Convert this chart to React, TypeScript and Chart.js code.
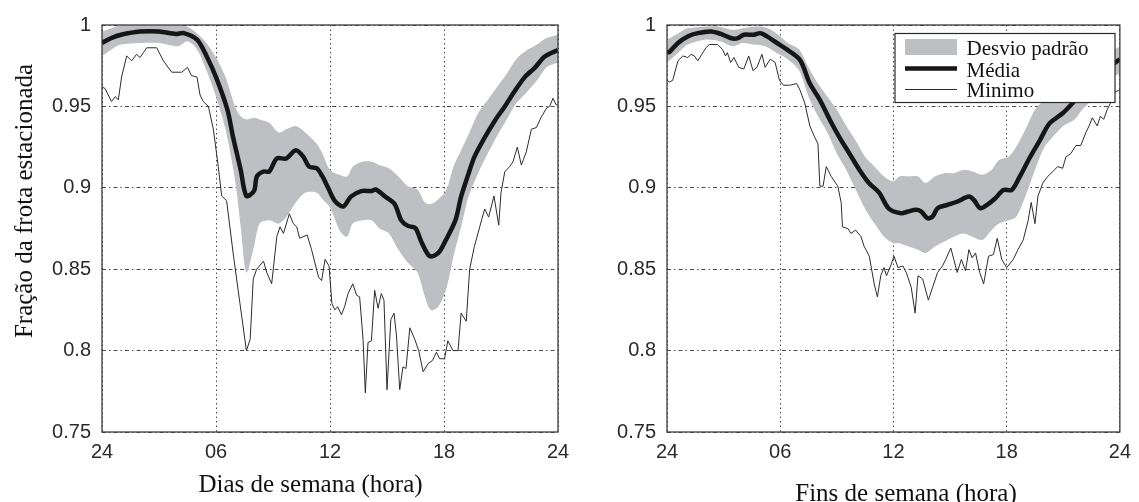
import { useEffect, useRef } from 'react';
import { Chart, registerables } from 'chart.js';

Chart.register(...registerables);

// Axis ticks: hours of the day, starting and ending at midnight ("24")
const xTickValues = [0, 6, 12, 18, 24];
const xTickLabels = ['24', '06', '12', '18', '24'];
const yTickValues = [0.75, 0.8, 0.85, 0.9, 0.95, 1];
const yTickLabels = ['0.75', '0.8', '0.85', '0.9', '0.95', '1'];

const yAxisTitle = 'Fração da frota estacionada';
const weekdayTitle = 'Dias de semana (hora)';
const weekendTitle = 'Fins de semana (hora)';
const legendLabels = ['Desvio padrão', 'Média', 'Minimo'];

// Weekdays: [hour, mean + std, mean - std]
const weekdayBand: [number, number, number][] = [
  [0, 0.996, 0.981], [0.5, 0.998, 0.985], [1, 1.0, 0.988], [2, 1.0, 0.989], [3, 1.0, 0.989],
  [4, 1.0, 0.987], [4.5, 0.999, 0.99], [5, 0.995, 0.985], [5.5, 0.989, 0.972], [6, 0.98, 0.956],
  [6.5, 0.968, 0.936], [7, 0.95, 0.905], [7.3, 0.944, 0.876], [7.6, 0.942, 0.848], [8, 0.943, 0.864],
  [8.3, 0.942, 0.878], [8.8, 0.94, 0.88], [9.3, 0.934, 0.878], [9.7, 0.936, 0.882], [10.2, 0.938, 0.891],
  [10.7, 0.934, 0.897], [11.3, 0.927, 0.897], [11.6, 0.921, 0.893], [12, 0.911, 0.888], [12.5, 0.908, 0.874],
  [12.9, 0.907, 0.87], [13.2, 0.913, 0.878], [13.7, 0.916, 0.88], [14.2, 0.916, 0.88], [14.6, 0.914, 0.875],
  [15.1, 0.912, 0.872], [15.6, 0.907, 0.862], [16.1, 0.901, 0.854], [16.6, 0.899, 0.848], [17, 0.891, 0.833],
  [17.3, 0.89, 0.825], [17.7, 0.893, 0.827], [18.1, 0.898, 0.837], [18.5, 0.913, 0.858], [18.9, 0.923, 0.876],
  [19.3, 0.933, 0.895], [19.8, 0.946, 0.909], [20.3, 0.954, 0.921], [20.8, 0.962, 0.932], [21.3, 0.97, 0.942],
  [21.8, 0.979, 0.952], [22.3, 0.984, 0.958], [22.9, 0.988, 0.966], [23.4, 0.992, 0.974], [24, 0.994, 0.977],
];

// Weekdays: [hour, mean fraction]
const weekdayMean: [number, number][] = [
  [0, 0.989], [0.5, 0.992], [1, 0.994], [2, 0.996], [3, 0.996], [3.9, 0.9945], [4.3, 0.995], [5, 0.991],
  [5.5, 0.981], [6, 0.968], [6.6, 0.948], [6.9, 0.931], [7.3, 0.911], [7.6, 0.895], [8.0, 0.898],
  [8.15, 0.907], [8.5, 0.91], [8.8, 0.91], [9.2, 0.918], [9.7, 0.918], [10.2, 0.923], [10.6, 0.919],
  [10.9, 0.913], [11.3, 0.912], [11.6, 0.907], [11.9, 0.9], [12.25, 0.892], [12.7, 0.8885], [13.1, 0.8946],
  [13.65, 0.898], [14.2, 0.898], [14.4, 0.899], [14.9, 0.8946], [15.4, 0.89], [15.75, 0.88], [16.1, 0.8766],
  [16.5, 0.8752], [16.8, 0.867], [17.25, 0.858], [17.7, 0.86], [18.1, 0.868], [18.6, 0.88], [18.9, 0.8946],
  [19.3, 0.909], [19.6, 0.919], [20.1, 0.93], [20.7, 0.9417], [21.2, 0.95], [21.7, 0.959], [22.25, 0.968],
  [22.8, 0.974], [23.3, 0.9806], [24, 0.9847],
];

// Weekdays: [hour, minimum fraction]
const weekdayMinimum: [number, number][] = [
  [0, 0.962], [0.16, 0.961], [0.33, 0.957], [0.5, 0.953], [0.7, 0.956], [0.86, 0.954], [1.03, 0.968],
  [1.3, 0.981], [1.56, 0.978], [1.82, 0.982], [2.0, 0.98], [2.18, 0.983], [2.35, 0.986], [2.88, 0.986],
  [3.23, 0.978], [3.67, 0.971], [4.2, 0.971], [4.5, 0.974], [4.7, 0.969], [5.0, 0.968], [5.16, 0.957],
  [5.33, 0.953], [5.6, 0.95], [5.86, 0.936], [6.12, 0.913], [6.3, 0.895], [6.56, 0.892], [6.9, 0.86],
  [7.26, 0.829], [7.6, 0.8], [7.8, 0.807], [7.96, 0.844], [8.14, 0.85], [8.5, 0.855], [8.67, 0.848],
  [8.93, 0.841], [9.2, 0.87], [9.37, 0.876], [9.55, 0.872], [9.86, 0.884], [10.07, 0.878], [10.25, 0.876],
  [10.4, 0.869], [10.8, 0.871], [11.03, 0.862], [11.4, 0.845], [11.56, 0.843], [11.74, 0.856], [11.95, 0.852],
  [12.1, 0.829], [12.25, 0.825], [12.4, 0.827], [12.6, 0.822], [12.77, 0.827], [12.95, 0.835], [13.2, 0.841],
  [13.4, 0.834], [13.56, 0.833], [13.74, 0.807], [13.86, 0.774], [14.0, 0.805], [14.18, 0.806], [14.35, 0.837],
  [14.53, 0.826], [14.7, 0.835], [14.84, 0.831], [15.0, 0.776], [15.2, 0.819], [15.37, 0.823], [15.5, 0.809],
  [15.67, 0.776], [15.84, 0.79], [16.0, 0.789], [16.2, 0.814], [16.46, 0.807], [16.67, 0.8], [16.9, 0.787],
  [17.16, 0.792], [17.4, 0.794], [17.6, 0.799], [17.77, 0.795], [18.03, 0.795], [18.2, 0.806], [18.47, 0.8],
  [18.74, 0.8], [18.9, 0.823], [19.17, 0.818], [19.35, 0.85], [19.6, 0.864], [19.88, 0.876], [20.14, 0.887],
  [20.35, 0.882], [20.63, 0.895], [20.88, 0.877], [21.0, 0.897], [21.2, 0.91], [21.46, 0.913], [21.63, 0.916],
  [21.86, 0.925], [22.07, 0.914], [22.33, 0.922], [22.6, 0.936], [22.86, 0.937], [23.1, 0.943], [23.4, 0.949],
  [23.56, 0.95], [23.74, 0.955], [23.9, 0.951], [24, 0.951],
];

// Weekends: [hour, mean + std, mean - std]
const weekendBand: [number, number, number][] = [
  [0, 0.991, 0.977], [0.6, 0.995, 0.983], [1.1, 0.998, 0.988], [2, 0.999, 0.991], [2.8, 0.999, 0.99],
  [3.5, 0.997, 0.987], [4, 0.998, 0.989], [4.6, 0.999, 0.988], [5.2, 0.9986, 0.987], [5.8, 0.995, 0.983],
  [6.4, 0.989, 0.979], [7, 0.985, 0.972], [7.5, 0.974, 0.956], [8, 0.964, 0.944], [8.5, 0.956, 0.934],
  [9, 0.948, 0.921], [9.5, 0.938, 0.911], [10, 0.929, 0.899], [10.5, 0.919, 0.887], [11, 0.913, 0.878],
  [11.5, 0.907, 0.87], [12, 0.904, 0.866], [12.3, 0.907, 0.866], [12.8, 0.907, 0.864], [13.3, 0.907, 0.862],
  [13.7, 0.903, 0.86], [14.2, 0.907, 0.864], [14.7, 0.909, 0.867], [15.2, 0.909, 0.87], [15.7, 0.911, 0.872],
  [16.2, 0.91, 0.87], [16.7, 0.908, 0.868], [17.2, 0.911, 0.874], [17.6, 0.917, 0.878], [18.1, 0.919, 0.88],
  [18.5, 0.925, 0.882], [19, 0.936, 0.895], [19.5, 0.948, 0.911], [20, 0.954, 0.925], [20.5, 0.958, 0.932],
  [21, 0.962, 0.938], [21.6, 0.967, 0.942], [22, 0.97, 0.948], [22.5, 0.975, 0.954], [23.2, 0.98, 0.964],
  [23.5, 0.983, 0.968], [24, 0.987, 0.97],
];

// Weekends: [hour, mean fraction]
const weekendMean: [number, number][] = [
  [0, 0.983], [0.14, 0.9836], [0.58, 0.989], [1.1, 0.993], [1.63, 0.995], [2.33, 0.996], [2.85, 0.9945],
  [3.37, 0.992], [3.72, 0.9918], [4.07, 0.994], [4.6, 0.994], [4.95, 0.995], [5.3, 0.993], [5.82, 0.989],
  [6.35, 0.985], [7.05, 0.9785], [7.57, 0.964], [8.1, 0.954], [8.62, 0.942], [9.14, 0.931], [9.67, 0.921],
  [10.2, 0.911], [10.7, 0.903], [11.24, 0.897], [11.77, 0.887], [12.4, 0.8844], [12.77, 0.8854], [13.2, 0.8865],
  [13.47, 0.8854], [13.8, 0.8813], [14.08, 0.8824], [14.34, 0.8875], [14.86, 0.8895], [15.4, 0.8916],
  [16.0, 0.8946], [16.26, 0.8926], [16.6, 0.8875], [16.96, 0.8895], [17.4, 0.8936], [17.83, 0.8987],
  [18.27, 0.8987], [18.7, 0.907], [19.2, 0.918], [19.75, 0.929], [20.27, 0.9396], [20.97, 0.9458],
  [21.67, 0.954], [22.37, 0.96], [23.06, 0.968], [23.6, 0.9755], [24, 0.979],
];

// Weekends: [hour, minimum fraction]
const weekendMinimum: [number, number][] = [
  [0, 0.966], [0.14, 0.965], [0.3, 0.966], [0.58, 0.978], [0.84, 0.981], [1.1, 0.98], [1.28, 0.982],
  [1.45, 0.981], [1.63, 0.978], [1.9, 0.983], [2.06, 0.986], [2.24, 0.988], [2.67, 0.988], [2.94, 0.985],
  [3.1, 0.981], [3.2, 0.983], [3.37, 0.977], [3.55, 0.98], [3.8, 0.974], [4.07, 0.973], [4.33, 0.981],
  [4.56, 0.972], [4.77, 0.974], [5.03, 0.982], [5.2, 0.974], [5.47, 0.979], [5.73, 0.977], [5.96, 0.966],
  [6.17, 0.963], [6.5, 0.963], [6.87, 0.964], [7.05, 0.96], [7.3, 0.952], [7.57, 0.938], [7.83, 0.931],
  [8.0, 0.927], [8.1, 0.901], [8.27, 0.901], [8.44, 0.913], [8.7, 0.907], [9.05, 0.901], [9.23, 0.891],
  [9.3, 0.876], [9.58, 0.875], [9.75, 0.872], [10.0, 0.874], [10.28, 0.87], [10.45, 0.864], [10.72, 0.858],
  [10.98, 0.841], [11.15, 0.833], [11.33, 0.846], [11.5, 0.851], [11.63, 0.846], [11.85, 0.852], [12.03, 0.858],
  [12.24, 0.851], [12.5, 0.852], [12.68, 0.848], [12.94, 0.839], [13.15, 0.823], [13.3, 0.846], [13.55, 0.844],
  [13.85, 0.831], [14.08, 0.839], [14.34, 0.848], [14.6, 0.852], [14.77, 0.856], [15.04, 0.863], [15.2, 0.856],
  [15.38, 0.848], [15.6, 0.856], [15.82, 0.849], [16.0, 0.862], [16.17, 0.857], [16.35, 0.86], [16.57, 0.848],
  [16.78, 0.841], [17.04, 0.858], [17.3, 0.859], [17.5, 0.869], [17.74, 0.856], [18.0, 0.851], [18.35, 0.856],
  [18.6, 0.862], [18.88, 0.868], [19.14, 0.88], [19.3, 0.891], [19.5, 0.878], [19.66, 0.895], [19.92, 0.903],
  [20.18, 0.907], [20.45, 0.91], [20.7, 0.913], [20.97, 0.912], [21.14, 0.919], [21.4, 0.921], [21.67, 0.926],
  [21.93, 0.926], [22.2, 0.934], [22.37, 0.938], [22.54, 0.943], [22.8, 0.938], [22.97, 0.944], [23.14, 0.942],
  [23.33, 0.948], [23.5, 0.952], [23.76, 0.959], [24, 0.96],
];

const HEIGHT = 502;
const SANS = "'Liberation Sans', Arial, sans-serif";
const SERIF = "'Liberation Serif', 'Times New Roman', serif";
const BAND_COLOR = '#bebfc2';
const MEAN_COLOR = '#161616';
const MIN_COLOR = '#2c2c2c';
const GRID_COLOR = '#4a4a4a';
const FRAME_COLOR = '#3c3c3c';
const TICK_COLOR = '#2a2a2a';
const TEXT_COLOR = '#111111';

type PanelSpec = {
  left: number;
  width: number;
  yAxisWidth: number;
  padRight: number;
  band: [number, number, number][];
  mean: [number, number][];
  minimum: [number, number][];
  title: string;
  titleX: number;
  titleBaseline: number;
  yTitle: boolean;
  legend: boolean;
};

const panels: PanelSpec[] = [
  {
    left: 0, width: 580, yAxisWidth: 102, padRight: 22,
    band: weekdayBand, mean: weekdayMean, minimum: weekdayMinimum,
    title: weekdayTitle, titleX: 310.5, titleBaseline: 492, yTitle: true, legend: false,
  },
  {
    left: 580, width: 559, yAxisWidth: 87, padRight: 15,
    band: weekendBand, mean: weekendMean, minimum: weekendMinimum,
    title: weekendTitle, titleX: 326, titleBaseline: 500.5, yTitle: false, legend: true,
  },
];

function decorations(spec: PanelSpec) {
  return {
    id: 'panelDecorations',
    afterDatasetsDraw(chart: Chart) {
      const { ctx, chartArea: a } = chart;
      ctx.save();
      // plot frame
      ctx.strokeStyle = FRAME_COLOR;
      ctx.lineWidth = 1.3;
      ctx.strokeRect(a.left, a.top, a.right - a.left, a.bottom - a.top);

      if (spec.legend) {
        const bx = 315, by = 33.5, bw = 220, bh = 69;
        ctx.fillStyle = '#ffffff';
        ctx.fillRect(bx, by, bw, bh);
        ctx.strokeStyle = '#2a2a2a';
        ctx.lineWidth = 1.2;
        ctx.strokeRect(bx, by, bw, bh);

        const sx0 = 325, sx1 = 377;
        ctx.fillStyle = BAND_COLOR;
        ctx.fillRect(sx0, 39, sx1 - sx0, 16);

        ctx.strokeStyle = MEAN_COLOR;
        ctx.lineWidth = 4.5;
        ctx.beginPath();
        ctx.moveTo(sx0, 68.5);
        ctx.lineTo(sx1, 68.5);
        ctx.stroke();

        ctx.strokeStyle = MIN_COLOR;
        ctx.lineWidth = 1;
        ctx.beginPath();
        ctx.moveTo(sx0, 89.5);
        ctx.lineTo(sx1, 89.5);
        ctx.stroke();

        ctx.fillStyle = TEXT_COLOR;
        ctx.font = `21px ${SERIF}`;
        ctx.textAlign = 'left';
        ctx.textBaseline = 'alphabetic';
        const baselines = [55, 76.5, 96.5];
        legendLabels.forEach((label, i) => ctx.fillText(label, 386.5, baselines[i]));
      }
      ctx.restore();
    },
    afterDraw(chart: Chart) {
      const { ctx } = chart;
      ctx.save();
      ctx.fillStyle = TEXT_COLOR;
      ctx.font = `25px ${SERIF}`;
      ctx.textAlign = 'center';
      ctx.textBaseline = 'alphabetic';
      ctx.fillText(spec.title, spec.titleX, spec.titleBaseline);
      if (spec.yTitle) {
        ctx.translate(31.5, 201);
        ctx.rotate(-Math.PI / 2);
        ctx.fillText(yAxisTitle, 0, 0);
      }
      ctx.restore();
    },
  };
}

function Panel({ spec }: { spec: PanelSpec }) {
  const ref = useRef<HTMLCanvasElement>(null);

  useEffect(() => {
    const canvas = ref.current;
    if (!canvas) return;
    const tickFont = { family: SANS, size: 20 };
    const chart = new Chart(canvas, {
      type: 'line',
      data: {
        datasets: [
          {
            label: legendLabels[1],
            data: spec.mean.map(([x, y]) => ({ x, y })),
            borderColor: MEAN_COLOR,
            borderWidth: 4.5,
            pointRadius: 0,
            tension: 0.3,
            fill: false,
            order: 0,
          },
          {
            label: legendLabels[2],
            data: spec.minimum.map(([x, y]) => ({ x, y })),
            borderColor: MIN_COLOR,
            borderWidth: 1,
            pointRadius: 0,
            tension: 0,
            fill: false,
            order: 1,
          },
          {
            label: legendLabels[0],
            data: spec.band.map(([x, hi]) => ({ x, y: hi })),
            borderWidth: 0,
            borderColor: 'rgba(0,0,0,0)',
            backgroundColor: BAND_COLOR,
            pointRadius: 0,
            tension: 0.3,
            fill: '+1',
            order: 2,
          },
          {
            label: 'lower',
            data: spec.band.map(([x, , lo]) => ({ x, y: lo })),
            borderWidth: 0,
            borderColor: 'rgba(0,0,0,0)',
            pointRadius: 0,
            tension: 0.3,
            fill: false,
            order: 3,
          },
        ],
      },
      options: {
        responsive: false,
        animation: false,
        events: [],
        layout: { padding: { top: 25, right: spec.padRight, left: 0, bottom: 0 } },
        plugins: { legend: { display: false }, tooltip: { enabled: false } },
        scales: {
          x: {
            type: 'linear',
            min: 0,
            max: 24,
            afterBuildTicks: (scale: any) => {
              scale.ticks = xTickValues.map((value) => ({ value }));
            },
            afterFit: (scale: any) => {
              scale.height = 70;
            },
            ticks: {
              callback: (_v: any, i: number) => xTickLabels[i],
              font: tickFont,
              color: TICK_COLOR,
              padding: 8,
              maxRotation: 0,
              autoSkip: false,
            },
            grid: { color: GRID_COLOR, lineWidth: 1, drawTicks: false },
            border: { display: false, dash: [1.5, 3] },
          },
          y: {
            type: 'linear',
            min: 0.75,
            max: 1,
            afterBuildTicks: (scale: any) => {
              scale.ticks = yTickValues.map((value) => ({ value }));
            },
            afterFit: (scale: any) => {
              scale.width = spec.yAxisWidth;
            },
            ticks: {
              callback: (_v: any, i: number) => yTickLabels[i],
              font: tickFont,
              color: TICK_COLOR,
              padding: 11,
            },
            grid: { color: GRID_COLOR, lineWidth: 1, drawTicks: false },
            border: { display: false, dash: [4, 3, 1.5, 3] },
          },
        },
      },
      plugins: [decorations(spec)],
    } as any);
    return () => chart.destroy();
  }, [spec]);

  return (
    <canvas
      ref={ref}
      width={spec.width}
      height={HEIGHT}
      style={{ position: 'absolute', left: spec.left, top: 0, width: spec.width, height: HEIGHT }}
    />
  );
}

export default function App() {
  return (
    <div style={{ position: 'absolute', left: 0, top: 0, width: 1139, height: HEIGHT, background: '#ffffff', overflow: 'hidden' }}>
      {panels.map((spec, i) => (
        <Panel key={i} spec={spec} />
      ))}
    </div>
  );
}
